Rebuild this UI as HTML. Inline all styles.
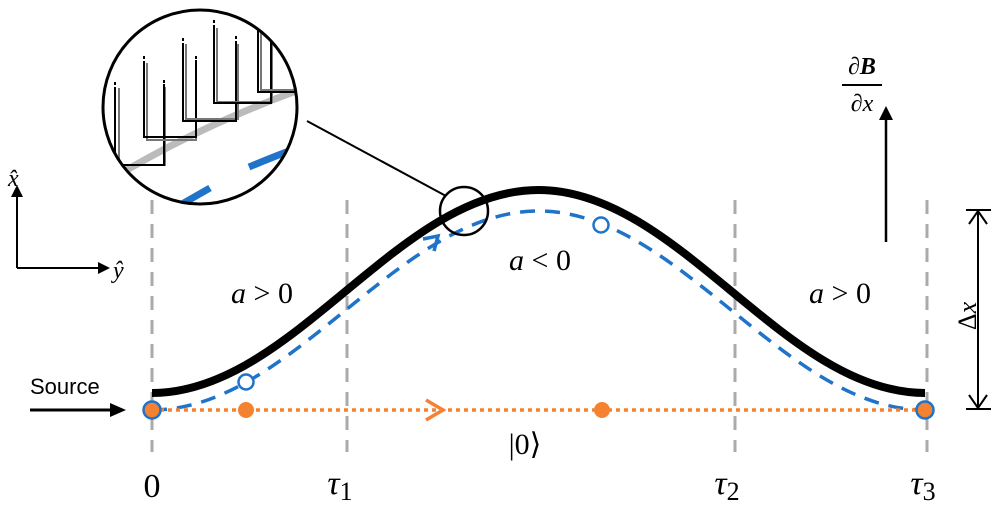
<!DOCTYPE html>
<html><head><meta charset="utf-8"><style>
html,body{margin:0;padding:0;background:#fff;}
svg{display:block;}
text{font-family:"Liberation Serif","DejaVu Serif",serif;}
.it{font-style:italic;}
</style></head><body>
<svg width="1000" height="510" viewBox="0 0 1000 510" xmlns="http://www.w3.org/2000/svg">
<defs>
<clipPath id="zc"><circle cx="200" cy="107" r="96"/></clipPath>
</defs>
<g stroke="#aaa" stroke-width="3" stroke-dasharray="14,10">
<line x1="152" y1="200" x2="152" y2="452"/>
<line x1="347" y1="200" x2="347" y2="452"/>
<line x1="735" y1="200" x2="735" y2="452"/>
<line x1="927" y1="200" x2="927" y2="452"/>
</g>
<path d="M152,393 C292.8,393 397.7,190 538.5,190 S784.2,393 925,393" fill="none" stroke="#000" stroke-width="8"/>
<path d="M152,410 C292.8,410 397.7,211 538.5,211 S784.2,410 925,410" fill="none" stroke="#1f73c9" stroke-width="3.5" stroke-dasharray="15,10"/>
<path d="M423,239 L438,236 L434,251" fill="none" stroke="#1f73c9" stroke-width="3.5"/>
<circle cx="246" cy="382" r="7.5" fill="#fff" stroke="#1f73c9" stroke-width="2.5"/>
<circle cx="601" cy="225" r="7.5" fill="#fff" stroke="#1f73c9" stroke-width="2.5"/>
<line x1="152" y1="410" x2="925" y2="410" stroke="#f58231" stroke-width="3.5" stroke-dasharray="4,4"/>
<path d="M426,400 L443,410 L426,420" fill="none" stroke="#f58231" stroke-width="3.5"/>
<circle cx="152" cy="410" r="8.5" fill="#f58231" stroke="#1f73c9" stroke-width="2.5"/>
<circle cx="925" cy="410" r="8.5" fill="#f58231" stroke="#1f73c9" stroke-width="2.5"/>
<circle cx="246" cy="410" r="8" fill="#f58231"/>
<circle cx="602" cy="410" r="8" fill="#f58231"/>
<circle cx="464" cy="211" r="24" fill="none" stroke="#000" stroke-width="2.5"/>
<line x1="307" y1="121" x2="446" y2="196" stroke="#000" stroke-width="2"/>
<g clip-path="url(#zc)">
<path d="M110,180 Q200,125 310,86" fill="none" stroke="#bbb" stroke-width="7"/>
<path d="M168,212 L210,188 M249,167 Q275,156 305,145" fill="none" stroke="#1f73c9" stroke-width="7"/>
<g fill="none" stroke-width="2">
<path d="M119,88 V165 H165 V87" stroke="#777"/>
<path d="M115,88 V165 H164 V84" stroke="#000"/>
<path d="M147,63 V140 H196 V63" stroke="#777"/>
<path d="M144,62 V137 H196 V60" stroke="#000"/>
<path d="M186,44 V119 H238 V44" stroke="#777"/>
<path d="M183,44 V121 H236 V42" stroke="#000"/>
<path d="M217,28 V102 H272 V28" stroke="#777"/>
<path d="M214,26 V103 H271 V26" stroke="#000"/>
<path d="M261,30 V90 H300" stroke="#777"/>
<path d="M258,28 V92 H300" stroke="#000"/>
</g>
<g stroke="#000" stroke-width="2" stroke-dasharray="3,2">
<line x1="115" y1="82" x2="115" y2="100"/><line x1="144" y1="56" x2="144" y2="72"/>
<line x1="183" y1="38" x2="183" y2="54"/><line x1="214" y1="20" x2="214" y2="36"/>
<line x1="164" y1="80" x2="164" y2="96"/><line x1="196" y1="56" x2="196" y2="72"/>
<line x1="236" y1="36" x2="236" y2="52"/>
</g>
</g>
<circle cx="200" cy="107" r="97" fill="none" stroke="#000" stroke-width="3"/>
<g stroke="#000" stroke-width="2" fill="none">
<path d="M17,268 V195 M17,268 H100"/>
</g>
<path d="M11,197 L17,185 L23,197Z M98,262 L110,268 L98,274Z" fill="#000"/>
<text x="8" y="186" class="it" font-size="24">x̂</text>
<text x="113" y="278" class="it" font-size="24">ŷ</text>
<text x="30" y="394" font-size="22" style="font-family:'Liberation Sans',sans-serif">Source</text>
<line x1="30" y1="410" x2="112" y2="410" stroke="#000" stroke-width="3"/>
<path d="M110,403 L126,410 L110,417Z" fill="#000"/>
<line x1="886" y1="242" x2="886" y2="118" stroke="#000" stroke-width="2.5"/>
<path d="M879,120 L886,106 L893,120Z" fill="#000"/>
<text x="862" y="74" font-size="24" text-anchor="middle" font-style="italic">∂<tspan font-weight="bold">B</tspan></text>
<line x1="842" y1="85" x2="882" y2="85" stroke="#000" stroke-width="2"/>
<text x="862" y="111" font-size="24" text-anchor="middle" font-style="italic">∂x</text>
<g stroke="#000" stroke-width="2" fill="none">
<line x1="966" y1="210" x2="991" y2="210"/><line x1="966" y1="409" x2="991" y2="409"/>
<line x1="978" y1="211" x2="978" y2="408"/>
<path d="M969,224 L978,211 L987,224 M969,395 L978,408 L987,395"/>
</g>
<text transform="translate(976,316) rotate(-90)" font-size="26" text-anchor="middle"><tspan>Δ</tspan><tspan class="it">x</tspan></text>
<g font-size="30">
<text x="262" y="303" text-anchor="middle"><tspan class="it">a</tspan> &gt; 0</text>
<text x="540" y="270" text-anchor="middle"><tspan class="it">a</tspan> &lt; 0</text>
<text x="840" y="303" text-anchor="middle"><tspan class="it">a</tspan> &gt; 0</text>
<text x="525" y="454" text-anchor="middle">|0⟩</text>
</g>
<g font-size="34">
<text x="152" y="497" text-anchor="middle">0</text>
<text x="340" y="494" text-anchor="middle" class="it">τ<tspan font-size="26" dy="6" font-style="normal">1</tspan></text>
<text x="727" y="494" text-anchor="middle" class="it">τ<tspan font-size="26" dy="6" font-style="normal">2</tspan></text>
<text x="923" y="494" text-anchor="middle" class="it">τ<tspan font-size="26" dy="6" font-style="normal">3</tspan></text>
</g>
</svg>
</body></html>
